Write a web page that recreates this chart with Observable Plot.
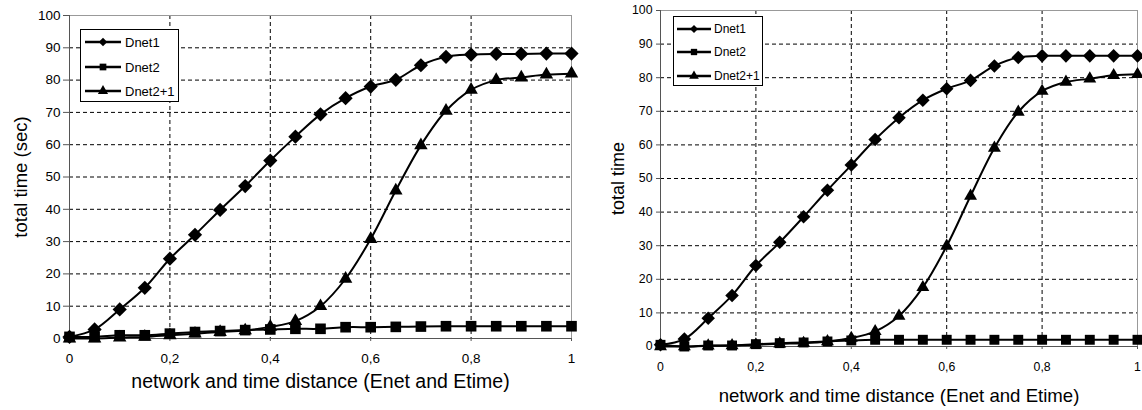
<!DOCTYPE html>
<html>
<head>
<meta charset="utf-8">
<script src="https://cdn.jsdelivr.net/npm/d3@7"></script>
<script src="https://cdn.jsdelivr.net/npm/@observablehq/plot@0.6"></script>
<style>
  html, body { margin: 0; padding: 0; background: #fff; }
  #wrap { position: relative; width: 1142px; height: 410px; font-family: "Liberation Sans", Arial, sans-serif; }
  .panel { position: absolute; top: 0; }
  .legend { position: absolute; background: #fff; border: 1px solid #000; box-sizing: border-box; }
  .legend .item { position: absolute; left: 0; display: flex; align-items: center; white-space: nowrap; color: #000; }
</style>
</head>
<body>
<div id="wrap"></div>
<script>
// ---- data ----
const xValues = [0, 0.05, 0.1, 0.15, 0.2, 0.25, 0.3, 0.35, 0.4, 0.45, 0.5, 0.55, 0.6, 0.65, 0.7, 0.75, 0.8, 0.85, 0.9, 0.95, 1];
const seriesNames = ["Dnet1", "Dnet2", "Dnet2+1"];
const seriesSymbols = ["diamond2", "square", "triangle"];

const leftDnet1  = [0.5, 2.8, 9, 15.7, 24.7, 32.1, 39.8, 47.2, 55.1, 62.5, 69.4, 74.4, 78, 80.1, 84.6, 87.2, 87.9, 88.1, 88.1, 88.2, 88.2];
const leftDnet2  = [0.5, 0.5, 1, 1, 1.5, 2, 2.3, 2.6, 2.8, 3, 3, 3.5, 3.5, 3.6, 3.7, 3.8, 3.8, 3.8, 3.8, 3.8, 3.8];
const leftDnet21 = [0, 0, 0.3, 0.5, 1, 1.5, 2, 2.5, 3.6, 5.4, 10, 18.5, 30.8, 45.8, 59.8, 70.5, 77, 80, 80.8, 81.7, 82];

const rightDnet1  = [0.5, 2.2, 8.4, 15.2, 24.1, 31, 38.6, 46.5, 54, 61.6, 68.1, 73.3, 76.7, 79.2, 83.5, 86, 86.5, 86.5, 86.5, 86.5, 86.5];
const rightDnet2  = [0.5, 0, 0.3, 0.3, 0.7, 1, 1.2, 1.5, 1.8, 2, 2, 2, 2, 2, 2, 2, 2, 2, 2, 2, 2];
const rightDnet21 = [0, 0, 0.2, 0.3, 0.5, 0.8, 1, 1.5, 2.5, 4.5, 9.1, 17.6, 29.9, 44.8, 59.1, 69.8, 76, 78.7, 79.7, 80.7, 81];

const xTicks = [0, 0.2, 0.4, 0.6, 0.8, 1];
const yTicks = [0, 10, 20, 30, 40, 50, 60, 70, 80, 90, 100];
const xTitle = "network and time distance (Enet and Etime)";
const leftYTitle = "total time (sec)";
const rightYTitle = "total time";

const fmt = d => String(d).replace(".", ",");

function rows(seriesArrays) {
  const out = [];
  seriesArrays.forEach((arr, i) => arr.forEach((v, j) => out.push({x: xValues[j], y: v, s: seriesNames[i]})));
  return out;
}

function makePanel(cfg) {
  const data = rows(cfg.series);
  const marks = [
    Plot.gridY(yTicks.filter(d => d > 0 && d < 100), {stroke: "#000", strokeOpacity: 1, strokeDasharray: "4,3", strokeWidth: 1}),
    Plot.gridX(xTicks.filter(d => d > 0 && d < 1), {stroke: "#000", strokeOpacity: 1, strokeDasharray: "4,3", strokeWidth: 1}),
    Plot.ruleY([100], {stroke: "#999"}),
    Plot.ruleX([1], {stroke: "#999"}),
    Plot.ruleX([0], {stroke: "#555"}),
    Plot.ruleY([0], {stroke: "#555"}),
    Plot.axisY({ticks: yTicks, tickSize: cfg.yTickSize, tickPadding: cfg.yTickPad, fontSize: cfg.tickFont, label: null, stroke: "#555"}),
    Plot.axisX({ticks: xTicks, tickSize: 3, tickPadding: cfg.xTickPad, fontSize: cfg.tickFont, tickFormat: fmt, label: null, stroke: "#555"}),
  ];
  seriesNames.forEach((name, i) => {
    const d = data.filter(r => r.s === name);
    marks.push(Plot.line(d, {x: "x", y: "y", stroke: "#000", strokeWidth: cfg.lineWidth, curve: "catmull-rom"}));
    marks.push(Plot.dot(d, {x: "x", y: "y", symbol: () => seriesSymbols[i], fill: "#000", stroke: "none", r: cfg.sizes[i]}));
  });
  marks.push(Plot.text([cfg.yTitle], {frameAnchor: "left", dx: -cfg.yTitleOffset, rotate: -90, textAnchor: "middle", lineAnchor: "middle", fontSize: cfg.titleFont, fill: "#000"}));
  marks.push(Plot.text([xTitle], {frameAnchor: "bottom", dy: cfg.xTitleOffset, textAnchor: "middle", lineAnchor: "middle", fontSize: cfg.xTitleFont, fill: "#000"}));
  const svg = Plot.plot({
    width: cfg.width,
    height: 410,
    marginLeft: cfg.ml, marginRight: cfg.mr, marginTop: cfg.mt, marginBottom: cfg.mb,
    x: {domain: [0, 1]},
    y: {domain: [0, 100]},
    style: {fontFamily: '"Liberation Sans", Arial, sans-serif', color: "#000", background: "#fff", overflow: "visible"},
    marks
  });
  svg.classList.add("panel");
  svg.style.left = cfg.left + "px";
  return svg;
}

function makeLegend(cfg) {
  const lg = document.createElement("div");
  lg.className = "legend";
  Object.assign(lg.style, {left: cfg.x + "px", top: cfg.y + "px", width: cfg.w + "px", height: cfg.h + "px"});
  seriesNames.forEach((name, i) => {
    const it = document.createElement("div");
    it.className = "item";
    it.style.top = (cfg.rowY[i] - cfg.y - 1 - 9) + "px";
    it.style.height = "18px";
    it.style.fontSize = cfg.font + "px";
    const sym = d3.symbol().type([d3.symbolDiamond2, d3.symbolSquare, d3.symbolTriangle][i]).size(cfg.symSize[i])();
    it.innerHTML = `<svg width="${cfg.lineW + cfg.lineX}" height="18" style="display:block"><line x1="${cfg.lineX}" x2="${cfg.lineX + cfg.lineW}" y1="9" y2="9" stroke="#000" stroke-width="2.5"/><path d="${sym}" transform="translate(${cfg.lineX + cfg.lineW / 2},9)" fill="#000"/></svg><span style="margin-left:${cfg.gap}px">${name}</span>`;
    lg.appendChild(it);
  });
  return lg;
}

const wrap = document.getElementById("wrap");
wrap.appendChild(makePanel({
  left: 0, width: 590, ml: 69, mr: 19, mt: 15, mb: 72,
  series: [leftDnet1, leftDnet2, leftDnet21],
  tickFont: 13.5, titleFont: 18.5, xTitleFont: 19.5, yTickSize: 6, yTickPad: 3, xTickPad: 12,
  yTitle: leftYTitle, yTitleOffset: 48, xTitleOffset: 43,
  lineWidth: 2, sizes: [6.4, 6, 5]
}));
wrap.appendChild(makePanel({
  left: 590, width: 552, ml: 70, mr: 5, mt: 10, mb: 64,
  series: [rightDnet1, rightDnet2, rightDnet21],
  tickFont: 12.3, titleFont: 18, xTitleFont: 18.6, yTickSize: 4, yTickPad: 4, xTickPad: 13,
  yTitle: rightYTitle, yTitleOffset: 42, xTitleOffset: 50,
  lineWidth: 2, sizes: [6.1, 5.6, 4.8]
}));
wrap.appendChild(makeLegend({x: 80, y: 29, w: 99, h: 73, rowY: [42, 67, 91], font: 13, lineX: 4, lineW: 36, gap: 4, symSize: [45, 45, 45]}));
wrap.appendChild(makeLegend({x: 673, y: 16, w: 90, h: 70, rowY: [29, 52, 76], font: 12, lineX: 3, lineW: 34, gap: 3, symSize: [40, 40, 40]}));
</script>
</body>
</html>
